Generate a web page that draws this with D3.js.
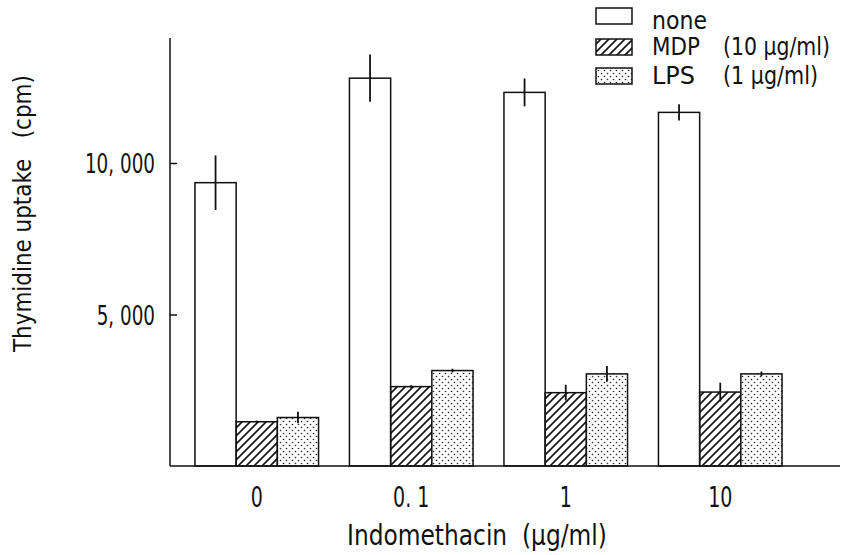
<!DOCTYPE html>
<html>
<head>
<meta charset="utf-8">
<script src="https://cdn.jsdelivr.net/npm/d3@7"></script>
<style>
  body { margin: 0; background: #fff; }
  svg { display: block; }
  text { font-family: "DejaVu Sans", sans-serif; fill: #111; }
</style>
</head>
<body>
<svg id="chart" width="843" height="555"></svg>
<script>
// ---- data ----
const categories = ["0", "0.1", "1", "10"];
const categoryLabels = ["0", "0. 1", "1", "10"];
const seriesNames = ["none", "MDP", "LPS"];
const legendLabels = ["none", "MDP", "LPS"];
const legendNotes = ["", "(10 µg/ml)", "(1 µg/ml)"];
const noneValues = [9350, 12800, 12330, 11670];
const noneErrors = [900, 780, 460, 270];
const mdpValues = [1460, 2620, 2420, 2440];
const mdpErrors = [40, 50, 260, 310];
const lpsValues = [1600, 3150, 3040, 3040];
const lpsErrors = [190, 60, 260, 80];
const yTickValues = [5000, 10000];
const yTickLabels = ["5, 000", "10, 000"];
const yMax = 14125;

const valuesBySeries = { none: noneValues, MDP: mdpValues, LPS: lpsValues };
const errorsBySeries = { none: noneErrors, MDP: mdpErrors, LPS: lpsErrors };

// ---- layout ----
const axisLeftX = 170, axisRightX = 840, plotTop = 38, plotBottom = 466;

const svg = d3.select("#chart");
const defs = svg.append("defs");

// place a horizontally-compressed text so that it is `w` px wide
function placeText(parent, str, px, X, Y, w, rotate) {
  const t = parent.append("text").attr("x", 0).attr("y", 0)
    .style("font-size", px + "px").attr("xml:space", "preserve").text(str);
  const L = t.node().getComputedTextLength();
  const sx = w / L;
  t.attr("transform", `translate(${X},${Y})` + (rotate ? ` rotate(${rotate})` : "") + ` scale(${sx},1)`);
  return t;
}

// hatch pattern
const hatch = defs.append("pattern")
  .attr("id", "hatch").attr("patternUnits", "userSpaceOnUse")
  .attr("width", 8).attr("height", 8);
hatch.append("path")
  .attr("d", "M-2,2 l4,-4 M0,8 l8,-8 M6,10 l4,-4")
  .attr("stroke", "#111").attr("stroke-width", 1.6);

// dot pattern
const dots = defs.append("pattern")
  .attr("id", "dots").attr("patternUnits", "userSpaceOnUse")
  .attr("width", 6).attr("height", 6);
dots.append("rect").attr("width", 6).attr("height", 6).attr("fill", "#fff");
dots.append("circle").attr("cx", 1.5).attr("cy", 1.5).attr("r", 0.8).attr("fill", "#222");
dots.append("circle").attr("cx", 4.5).attr("cy", 4.5).attr("r", 0.8).attr("fill", "#222");

const fills = { none: "#fff", MDP: "url(#hatch)", LPS: "url(#dots)" };

// ---- scales ----
const x = d3.scaleBand().domain(categories).range([179.5, 797.5])
  .paddingInner(0.2).paddingOuter(0.1);
const xs = d3.scaleBand().domain(seriesNames).range([0, x.bandwidth()]);
const y = d3.scaleLinear().domain([0, yMax]).range([plotBottom, plotTop]);

// ---- bars ----
const rows = [];
seriesNames.forEach(s => {
  categories.forEach((c, i) => {
    rows.push({ s, c, v: valuesBySeries[s][i], e: errorsBySeries[s][i] });
  });
});

const g = svg.append("g");
g.selectAll("rect.bar").data(rows).join("rect")
  .attr("class", "bar")
  .attr("x", d => x(d.c) + xs(d.s))
  .attr("y", d => y(d.v))
  .attr("width", xs.bandwidth())
  .attr("height", d => y(0) - y(d.v))
  .attr("fill", d => fills[d.s])
  .attr("stroke", "#111").attr("stroke-width", 1.5);

g.selectAll("line.err").data(rows).join("line")
  .attr("class", "err")
  .attr("x1", d => x(d.c) + xs(d.s) + xs.bandwidth() / 2)
  .attr("x2", d => x(d.c) + xs(d.s) + xs.bandwidth() / 2)
  .attr("y1", d => y(d.v + d.e))
  .attr("y2", d => y(d.v - d.e))
  .attr("stroke", "#111").attr("stroke-width", 1.8);

// ---- axes ----
const tickSx = 0.68, yPad = 15;
const yAxis = d3.axisLeft(y).tickValues(yTickValues)
  .tickFormat((d, i) => yTickLabels[i])
  .tickSizeInner(-7).tickSizeOuter(0).tickPadding(yPad);
const yg = svg.append("g").attr("transform", `translate(${axisLeftX},0)`).call(yAxis);
yg.select(".domain").remove();
yg.selectAll(".tick line").attr("stroke", "#111").attr("stroke-width", 1.5);
yg.selectAll(".tick text").style("font-size", "27px").attr("fill", "#111")
  .attr("x", -yPad / tickSx).attr("dy", "0.36em")
  .attr("transform", `scale(${tickSx},1)`);

svg.append("line")
  .attr("x1", axisLeftX).attr("x2", axisLeftX)
  .attr("y1", y.range()[1]).attr("y2", y.range()[0])
  .attr("stroke", "#111").attr("stroke-width", 1.5);

const xAxis = d3.axisBottom(x).tickSize(0).tickPadding(21)
  .tickFormat((d, i) => categoryLabels[i]);
const xg = svg.append("g").attr("transform", `translate(0,${plotBottom})`).call(xAxis);
xg.select(".domain").remove();
xg.selectAll(".tick text").style("font-size", "28px").attr("fill", "#111")
  .attr("xml:space", "preserve")
  .attr("transform", `scale(${tickSx},1)`);

svg.append("line")
  .attr("x1", axisLeftX).attr("x2", axisRightX)
  .attr("y1", plotBottom).attr("y2", plotBottom)
  .attr("stroke", "#111").attr("stroke-width", 1.5);

// axis titles
placeText(svg, "Indomethacin  (µg/ml)", 29, 347, 545, 260);
placeText(svg, "Thymidine uptake   (cpm)", 24, 31, 352, 277, -90);

// ---- legend ----
const legendY = [8, 39, 68];
const legendBaseline = [29, 55, 84];
const labelWidths = [55, 48, 43];
const noteWidths = [0, 107, 95];
const lg = svg.append("g");
seriesNames.forEach((s, i) => {
  lg.append("rect")
    .attr("x", 596).attr("y", legendY[i]).attr("width", 36).attr("height", 16)
    .attr("fill", fills[s]).attr("stroke", "#111").attr("stroke-width", 1.5);
  placeText(lg, legendLabels[i], 24, 652, legendBaseline[i], labelWidths[i]);
  if (legendNotes[i]) {
    placeText(lg, legendNotes[i], 24, 723, legendBaseline[i], noteWidths[i]);
  }
});
</script>
</body>
</html>
